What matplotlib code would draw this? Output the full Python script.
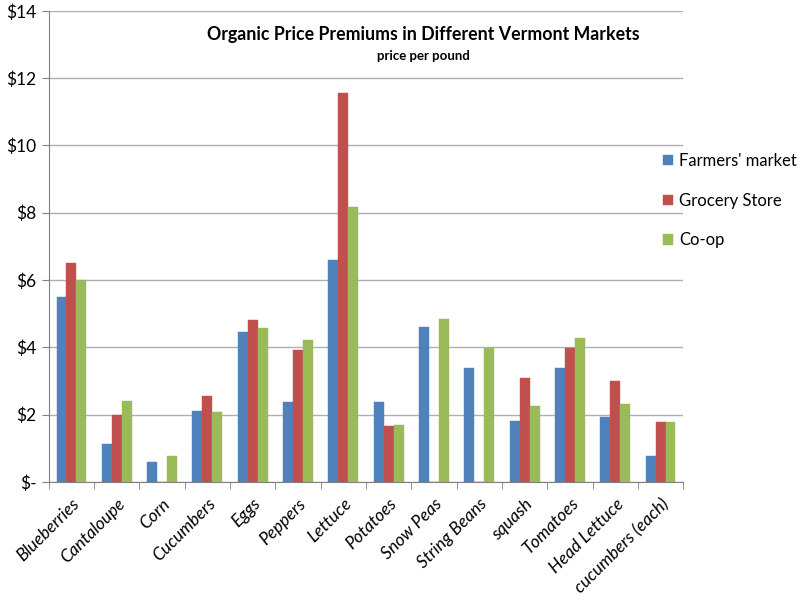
import matplotlib
matplotlib.use("Agg")
import matplotlib.pyplot as plt
import numpy as np
from matplotlib.ticker import FixedLocator, MultipleLocator, FuncFormatter

categories = ["Blueberries", "Cantaloupe", "Corn", "Cucumbers", "Eggs", "Peppers",
              "Lettuce", "Potatoes", "Snow Peas", "String Beans", "squash",
              "Tomatoes", "Head Lettuce", "cucumbers (each)"]
farmers = [5.50, 1.12, 0.59, 2.11, 4.45, 2.36, 6.58, 2.36, 4.61, 3.39, 1.81, 3.39, 1.93, 0.77]
grocery = [6.49, 1.98, 0.0, 2.54, 4.82, 3.93, 11.55, 1.65, 0.0, 0.0, 3.08, 3.98, 3.01, 1.77]
coop = [5.99, 2.40, 0.77, 2.08, 4.56, 4.21, 8.18, 1.70, 4.85, 3.98, 2.26, 4.26, 2.31, 1.77]
series_names = ["Farmers' market", "Grocery Store", "Co-op"]
colors = ["#4F81BD", "#C0504D", "#9BBB59"]

plt.rcParams['font.family'] = ['Lato', 'DejaVu Sans']

fig = plt.figure(figsize=(8, 6), dpi=100)
ax = fig.add_axes([0.061, 0.197, 0.793, 0.785])

x = np.arange(len(categories))
w = 0.22
for i, (vals, name, c) in enumerate(zip([farmers, grocery, coop], series_names, colors)):
    ax.bar(x + (i - 1) * w, vals, width=w, color=c, label=name, zorder=3,
           edgecolor=c, linewidth=0.3)

ax.set_xlim(-0.5, len(categories) - 0.5)
ax.set_ylim(0, 14)
ax.yaxis.set_major_locator(MultipleLocator(2))
ax.yaxis.set_major_formatter(FuncFormatter(lambda v, p: "$-" if v == 0 else f"${int(v)}"))
ax.grid(axis='y', color='#B0B0B0', linewidth=1, zorder=0)

ax.set_xticks(x)
ax.set_xticklabels(categories, rotation=45, ha='right', rotation_mode='anchor',
                   fontsize=12.5, style='italic')
ax.tick_params(axis='x', which='major', length=0, pad=10)
ax.xaxis.set_minor_locator(FixedLocator(np.arange(-0.5, len(categories), 1)))
ax.tick_params(axis='x', which='minor', length=5, color='#808080', direction='out')
ax.tick_params(axis='y', length=5, color='#808080', labelsize=12.5, pad=4)

for s in ['top', 'right']:
    ax.spines[s].set_visible(False)
for s in ['left', 'bottom']:
    ax.spines[s].set_color('#808080')

ax.text(0.59, 0.95, "Organic Price Premiums in Different Vermont Markets",
        transform=ax.transAxes, ha='center', va='center', fontsize=12.8, fontweight='bold')
ax.text(0.59, 0.903, "price per pound", transform=ax.transAxes, ha='center',
        va='center', fontsize=9.5, fontweight='bold')

leg = fig.legend(loc='upper left', bbox_to_anchor=(0.81, 0.77), frameon=False,
                 fontsize=12, handlelength=0.6, handleheight=0.6, handletextpad=0.35,
                 labelspacing=1.42)

fig.savefig("out.png", dpi=100)
